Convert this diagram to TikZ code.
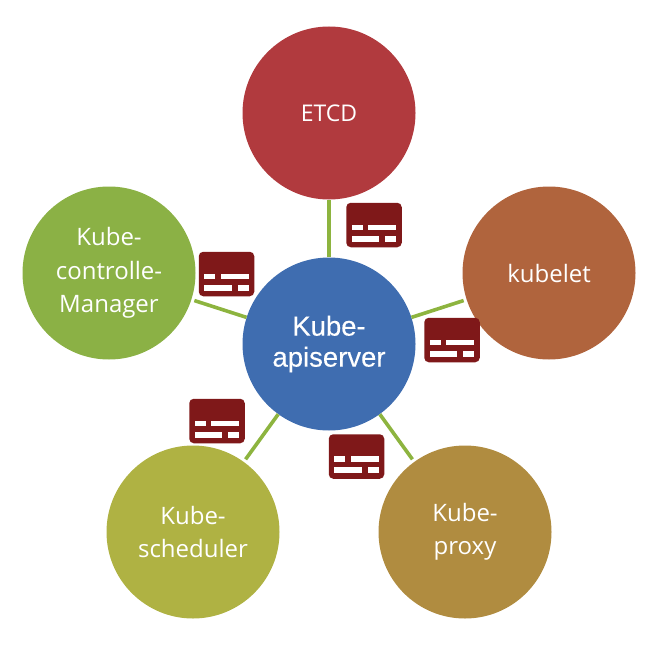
\documentclass[tikz,border=0pt]{standalone}
\usepackage{fontspec}
\setmainfont{Open Sans}
\newfontfamily\apifont[FakeBold=0.25]{Liberation Sans}
\definecolor{cEtcd}{HTML}{B13A3E}
\definecolor{cKubelet}{HTML}{B0643D}
\definecolor{cProxy}{HTML}{B08C40}
\definecolor{cSched}{HTML}{AFB243}
\definecolor{cCtrl}{HTML}{8BB145}
\definecolor{cApi}{HTML}{3F6DB0}
\definecolor{cIcon}{HTML}{7F1819}
\definecolor{cLink}{HTML}{8DB43F}
\tikzset{
  x=1pt,y=-1pt,
  hub/.style={circle,minimum size=173pt,inner sep=0pt,text=white,align=center,font=\fontsize{24}{33.5}\selectfont},
  link/.style={draw=cLink,line width=3.6pt},
  linkgap/.style={link,shorten >=3pt},
  iconbox/.style={fill=cIcon,rounded corners=4.5pt,minimum width=55.5pt,minimum height=44.5pt,inner sep=0pt},
  iconbar/.style={fill=white},
  pics/msgicon/.style={code={
    \node[iconbox] (-box) at (0,0) {};
    \fill[iconbar] (-22.2,-0.5) rectangle (-11.2,5.4);
    \fill[iconbar] (-5.6,-0.5) rectangle (22.1,5.4);
    \fill[iconbar] (-22.2,10.8) rectangle (5.4,16.7);
    \fill[iconbar] (11.1,10.8) rectangle (22.1,16.7);
  }}
}
\begin{document}
\begin{tikzpicture}
\useasboundingbox (0,0) rectangle (663,647);
\node[hub,fill=cEtcd,font=\fontsize{23}{30}\selectfont] (etcd) at (329,113) {ETCD};
\node[hub,fill=cKubelet] (kubelet) at (549,273) {kubelet};
\node[hub,fill=cProxy] (proxy) at (465,532) {Kube-\\proxy};
\node[hub,fill=cSched] (sched) at (193,532) {Kube-\\scheduler};
\node[hub,fill=cCtrl] (ctrl) at (109,273) {Kube-\\controlle-\\Manager};
\node[hub,fill=cApi,font=\apifont\fontsize{27.5}{31}\selectfont] (api) at (329,344) {Kube-\\apiserver};
\draw[link] (api) -- (etcd);
\draw[linkgap] (api) -- (kubelet);
\draw[linkgap] (api) -- (proxy);
\draw[linkgap] (api) -- (sched);
\draw[linkgap] (api) -- (ctrl);
\pic (iconEtcd) at (374,225) {msgicon};
\pic (iconKubelet) at (452,340) {msgicon};
\pic (iconProxy) at (356.5,456.5) {msgicon};
\pic (iconSched) at (217,421) {msgicon};
\pic (iconCtrl) at (226.5,274) {msgicon};
\end{tikzpicture}
\end{document}
